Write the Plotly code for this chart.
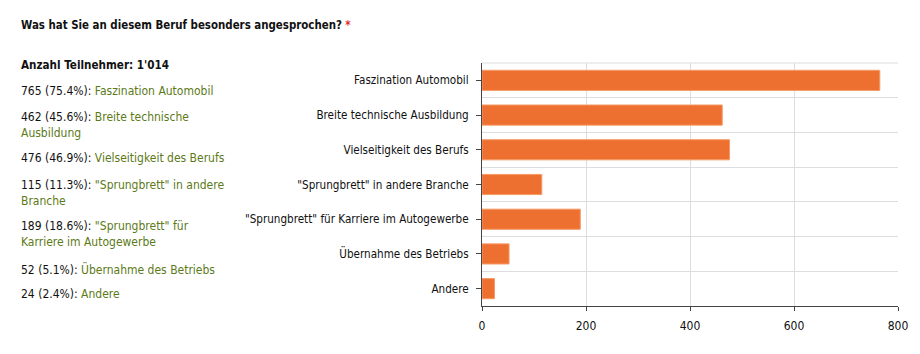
import plotly.graph_objects as go

categories = [
    "Faszination Automobil",
    "Breite technische Ausbildung",
    "Vielseitigkeit des Berufs",
    "\"Sprungbrett\" in andere Branche",
    "\"Sprungbrett\" für Karriere im Autogewerbe",
    "Übernahme des Betriebs",
    "Andere",
]
counts = [765, 462, 476, 115, 189, 52, 24]
percents = ["75.4%", "45.6%", "46.9%", "11.3%", "18.6%", "5.1%", "2.4%"]
left_labels = [
    "Faszination Automobil",
    "Breite technische<br>Ausbildung",
    "Vielseitigkeit des Berufs",
    "\"Sprungbrett\" in andere<br>Branche",
    "\"Sprungbrett\" für<br>Karriere im Autogewerbe",
    "Übernahme des Betriebs",
    "Andere",
]
participants = "1'014"
title = "Was hat Sie an diesem Beruf besonders angesprochen?"
x_ticks = [0, 200, 400, 600, 800]

W, H = 920, 354
ML, MR, MT, MB = 482, 19, 63, 48
PW, PH = W - ML - MR, H - MT - MB

FONT = "DejaVu Sans Condensed, DejaVu Sans, sans-serif"
GREEN = "#5c7a18"

def px(x):
    return (x - ML) / PW

def py(y):
    return 1 - (y - MT) / PH

pos = list(range(len(categories)))

fig = go.Figure()
fig.add_trace(go.Bar(
    x=counts, y=pos, orientation="h",
    marker=dict(color="#ee7031", line=dict(color="#f59a66", width=1)),
    width=0.58, hoverinfo="x+y",
))

TX = 16
ann = []
ann.append(dict(x=px(TX), y=py(25), xref="paper", yref="paper", xanchor="left", yanchor="middle",
                text="<b>" + title + "</b> <span style='color:#e8281e'><b>*</b></span>",
                showarrow=False, font=dict(family=FONT, size=11.4, color="#111111")))
ann.append(dict(x=px(TX), y=py(65), xref="paper", yref="paper", xanchor="left", yanchor="middle",
                text="<b>Anzahl Teilnehmer: " + participants + "</b>",
                showarrow=False, font=dict(family=FONT, size=11.6, color="#111111")))
first_line_y = [91, 117, 158, 185, 226, 268, 294]
for c, p, lab, yy in zip(counts, percents, left_labels, first_line_y):
    ann.append(dict(x=px(TX), y=py(yy - 9), xref="paper", yref="paper", xanchor="left", yanchor="top",
                    align="left",
                    text=f"{c} ({p}): <span style='color:{GREEN}'>{lab}</span>",
                    showarrow=False, font=dict(family=FONT, size=12, color="#111111")))

fig.update_layout(
    width=W, height=H,
    margin=dict(l=ML, r=MR, t=MT, b=MB, pad=0),
    paper_bgcolor="white", plot_bgcolor="white",
    showlegend=False,
    font=dict(family=FONT, size=12, color="#111111"),
    annotations=ann,
)
fig.update_xaxes(
    range=[0, 800], tickvals=x_ticks, ticks="outside", ticklen=4, tickcolor="#444444",
    showline=True, linecolor="#444444", linewidth=1,
    showgrid=True, gridcolor="#dddddd", gridwidth=1, zeroline=False,
    ticklabelstandoff=5,
    tickfont=dict(family=FONT, size=12, color="#111111"),
)
fig.update_yaxes(
    range=[len(categories) - 0.5, -0.5], tickvals=pos, ticktext=categories,
    ticks="outside", ticklen=5, tickcolor="#444444",
    showline=True, linecolor="#444444", linewidth=1,
    showgrid=False, zeroline=False,
    ticklabelstandoff=5,
    minor=dict(tick0=0.5, dtick=1, showgrid=True, gridcolor="#dddddd", gridwidth=1, ticks=""),
    tickfont=dict(family=FONT, size=11.6, color="#111111"),
)
fig.add_shape(type="line", xref="paper", yref="paper", x0=0, x1=1, y0=1, y1=1,
              line=dict(color="#dddddd", width=1), layer="below")

fig.write_html("out.html")
